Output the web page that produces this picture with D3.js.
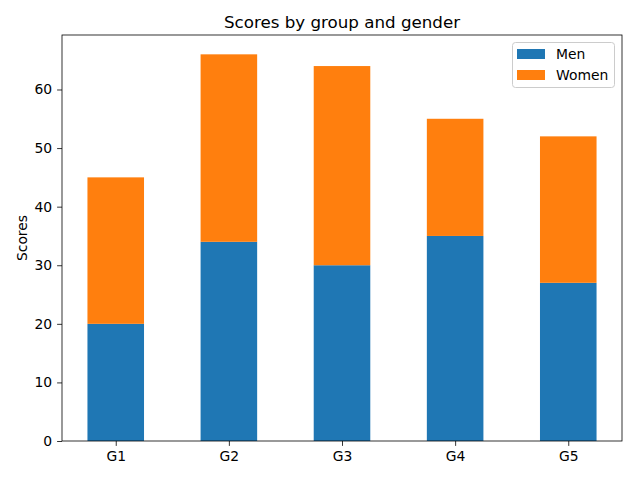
<!DOCTYPE html>
<html><head><meta charset="utf-8">
<script src="https://cdn.jsdelivr.net/npm/d3@7"></script>
<style>body{margin:0;background:#fff}svg{display:block}text{font-family:"DejaVu Sans",sans-serif;fill:#000}</style>
</head><body>
<script>
const categories = ["G1","G2","G3","G4","G5"];
const menScores = [20,34,30,35,27];
const womenScores = [25,32,34,20,25];
const yTicks = [0,10,20,30,40,50,60];
const seriesNames = ["Men","Women"];
const colors = ["#1f77b4","#ff7f0e"];

const W=640,H=480, L=62, R=622, T=35, B=441;
const svg=d3.select("body").append("svg").attr("width",W).attr("height",H);
const x=d3.scaleLinear().domain([-0.475,4.475]).range([L,R]);
const y=d3.scaleLinear().domain([0,69.3]).range([B,T]);
const bw=0.5;
const fs=13.9;

const stacked=categories.map((c,i)=>({c,i,m:menScores[i],w:womenScores[i]}));
svg.append("g").selectAll("rect").data(stacked).join("rect")
 .attr("x",d=>x(d.i-bw/2)).attr("width",d=>x(d.i+bw/2)-x(d.i-bw/2))
 .attr("y",d=>y(d.m)).attr("height",d=>y(0)-y(d.m)).attr("fill",colors[0]);
svg.append("g").selectAll("rect").data(stacked).join("rect")
 .attr("x",d=>x(d.i-bw/2)).attr("width",d=>x(d.i+bw/2)-x(d.i-bw/2))
 .attr("y",d=>y(d.m+d.w)).attr("height",d=>y(d.m)-y(d.m+d.w)).attr("fill",colors[1]);

// axes
const xa=svg.append("g").attr("transform",`translate(0,${B})`)
 .call(d3.axisBottom(x).tickValues(d3.range(categories.length)).tickFormat(i=>categories[i]).tickSize(4.9).tickPadding(4.9));
const ya=svg.append("g").attr("transform",`translate(${L},0)`)
 .call(d3.axisLeft(y).tickValues(yTicks).tickSize(4.9).tickPadding(4.9));
[xa,ya].forEach(a=>{a.select(".domain").remove();a.selectAll("text").style("font-size",fs+"px").attr("font-family","DejaVu Sans");a.selectAll("line").attr("stroke","#000").attr("stroke-width",0.8);});
svg.append("rect").attr("x",L).attr("y",T).attr("width",R-L).attr("height",B-T)
 .attr("fill","none").attr("stroke","#000").attr("stroke-width",0.8);

svg.append("text").attr("x",(L+R)/2).attr("y",T-7).attr("text-anchor","middle")
 .style("font-size","16.7px").text("Scores by group and gender");
svg.append("text").attr("transform",`translate(27,${(T+B)/2}) rotate(-90)`).attr("text-anchor","middle")
 .style("font-size",fs+"px").text("Scores");

// legend
const lg=svg.append("g");
lg.append("rect").attr("x",512.5).attr("y",42.5).attr("width",102).attr("height",45).attr("rx",3)
 .attr("fill","#fff").attr("fill-opacity",0.8).attr("stroke","#ccc").attr("stroke-width",1);
seriesNames.forEach((n,i)=>{
  const yy=54+i*21;
  lg.append("rect").attr("x",517).attr("y",yy-5).attr("width",28).attr("height",10).attr("fill",colors[i]);
  lg.append("text").attr("x",556).attr("y",yy+5).style("font-size",fs+"px").text(n);
});
</script>
</body></html>
